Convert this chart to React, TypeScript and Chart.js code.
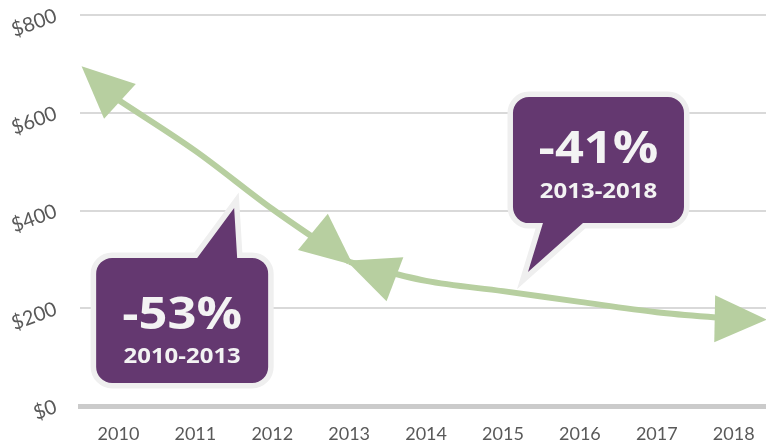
import React, { useEffect, useRef } from 'react';
import { Chart, registerables } from 'chart.js';

Chart.register(...registerables);

// ---- Data ----
const YEARS_A = [2010, 2011, 2012, 2013];
const PRICES_A = [626, 522, 403, 295];
const YEARS_B = [2013, 2014, 2015, 2016, 2017, 2018];
const PRICES_B = [295, 256, 235, 213, 192, 178];
const X_TICKS = [2010, 2011, 2012, 2013, 2014, 2015, 2016, 2017, 2018];
const Y_TICKS = [0, 200, 400, 600, 800];
const CALLOUT_A_TITLE = '-53%';
const CALLOUT_A_SUB = '2010-2013';
const CALLOUT_B_TITLE = '-41%';
const CALLOUT_B_SUB = '2013-2018';

// ---- Styles ----
const GREEN = '#b7cfa0';
const PURPLE = '#643870';
const BORDER_GRAY = '#efefef';
const TEXT_WHITE = '#f3f3f3';
const AXIS_TEXT = '#595959';

type ArrowCfg = { ds: number; at: 'start' | 'end'; tip: number; rot: number };
const ARROWS: ArrowCfg[] = [
  { ds: 0, at: 'start', tip: 50, rot: 9 },
  { ds: 0, at: 'end', tip: 5, rot: 5 },
  { ds: 1, at: 'start', tip: 3, rot: 7 },
  { ds: 1, at: 'end', tip: 33, rot: -4 },
];
const ARROW_LEN = 52;
const ARROW_W = 47;

const arrowPlugin = {
  id: 'arrowHeads',
  afterDatasetsDraw(chart: any) {
    const ctx = chart.ctx as CanvasRenderingContext2D;
    ctx.save();
    ctx.fillStyle = GREEN;
    ARROWS.forEach((a) => {
      const pts = chart.getDatasetMeta(a.ds).data;
      const n = pts.length;
      const to = a.at === 'start' ? pts[0] : pts[n - 1];
      const from = a.at === 'start' ? pts[1] : pts[n - 2];
      const ang = Math.atan2(to.y - from.y, to.x - from.x) + (a.rot * Math.PI) / 180;
      const dx = Math.cos(ang);
      const dy = Math.sin(ang);
      const tx = to.x + dx * a.tip;
      const ty = to.y + dy * a.tip;
      const bx = tx - dx * ARROW_LEN;
      const by = ty - dy * ARROW_LEN;
      const px = -dy * (ARROW_W / 2);
      const py = dx * (ARROW_W / 2);
      ctx.beginPath();
      ctx.moveTo(tx, ty);
      ctx.lineTo(bx + px, by + py);
      ctx.lineTo(bx - px, by - py);
      ctx.closePath();
      ctx.fill();
    });
    ctx.restore();
  },
};

type Callout = {
  title: string;
  sub: string;
  year: number; // box left
  value: number; // box top
  w: number;
  h: number;
  pointer: 'top' | 'bottom';
  p: number[];
  titleY: number;
  subY: number;
};

const CALLOUTS: Callout[] = [
  { title: CALLOUT_A_TITLE, sub: CALLOUT_A_SUB, year: 2009.71, value: 303, w: 172, h: 125, pointer: 'top', p: [101, 141, 138, -50], titleY: 71, subY: 105 },
  { title: CALLOUT_B_TITLE, sub: CALLOUT_B_SUB, year: 2015.13, value: 632, w: 171, h: 126, pointer: 'bottom', p: [30, 70, 15, 49], titleY: 66, subY: 101 },
];

function calloutPath(ctx: CanvasRenderingContext2D, l: number, t: number, c: Callout) {
  const r = 16;
  const rgt = l + c.w;
  const b = t + c.h;
  ctx.beginPath();
  ctx.moveTo(l + r, t);
  if (c.pointer === 'top') {
    ctx.lineTo(l + c.p[0], t);
    ctx.lineTo(l + c.p[2], t + c.p[3]);
    ctx.lineTo(l + c.p[1], t);
  }
  ctx.lineTo(rgt - r, t);
  ctx.arcTo(rgt, t, rgt, t + r, r);
  ctx.lineTo(rgt, b - r);
  ctx.arcTo(rgt, b, rgt - r, b, r);
  if (c.pointer === 'bottom') {
    ctx.lineTo(l + c.p[1], b);
    ctx.lineTo(l + c.p[2], b + c.p[3]);
    ctx.lineTo(l + c.p[0], b);
  }
  ctx.lineTo(l + r, b);
  ctx.arcTo(l, b, l, b - r, r);
  ctx.lineTo(l, t + r);
  ctx.arcTo(l, t, l + r, t, r);
  ctx.closePath();
}

function drawStretched(ctx: CanvasRenderingContext2D, text: string, cx: number, y: number, sx: number) {
  ctx.save();
  ctx.translate(cx, y);
  ctx.scale(sx, 1);
  ctx.fillText(text, 0, 0);
  ctx.restore();
}

const calloutPlugin = {
  id: 'callouts',
  afterDraw(chart: any) {
    const ctx = chart.ctx as CanvasRenderingContext2D;
    const xs = chart.scales.x;
    const ys = chart.scales.y;
    CALLOUTS.forEach((c) => {
      const l = xs.getPixelForValue(c.year);
      const t = ys.getPixelForValue(c.value);
      ctx.save();
      calloutPath(ctx, l, t, c);
      ctx.lineJoin = 'miter';
      ctx.miterLimit = 10;
      ctx.lineWidth = 11;
      ctx.strokeStyle = BORDER_GRAY;
      ctx.stroke();
      ctx.fillStyle = PURPLE;
      ctx.fill();
      ctx.fillStyle = TEXT_WHITE;
      ctx.textAlign = 'center';
      ctx.textBaseline = 'alphabetic';
      ctx.font = '700 44px "Open Sans"';
      drawStretched(ctx, c.title, l + c.w / 2, t + c.titleY, 1.15);
      ctx.font = '700 21px "Open Sans"';
      drawStretched(ctx, c.sub, l + c.w / 2, t + c.subY, 1.14);
      ctx.restore();
    });
  },
};

export default function App() {
  const ref = useRef<HTMLCanvasElement | null>(null);

  useEffect(() => {
    if (!ref.current) return;
    const chart = new Chart(ref.current, {
      type: 'line',
      data: {
        datasets: [
          {
            data: YEARS_A.map((y, i) => ({ x: y, y: PRICES_A[i] })),
            borderColor: GREEN,
            borderWidth: 6,
            pointRadius: 0,
            cubicInterpolationMode: 'monotone',
            fill: false,
          },
          {
            data: YEARS_B.map((y, i) => ({ x: y, y: PRICES_B[i] })),
            borderColor: GREEN,
            borderWidth: 6,
            pointRadius: 0,
            cubicInterpolationMode: 'monotone',
            fill: false,
          },
        ],
      },
      options: {
        animation: false,
        responsive: true,
        maintainAspectRatio: false,
        layout: { padding: { top: 15, right: 0, left: 0, bottom: 0 } },
        plugins: { legend: { display: false }, tooltip: { enabled: false } },
        scales: {
          x: {
            type: 'linear',
            min: 2009.5,
            max: 2018.42,
            afterBuildTicks: (s: any) => {
              s.ticks = X_TICKS.map((v) => ({ value: v }));
            },
            afterFit: (s: any) => {
              s.height = 42;
              s.paddingLeft = 0;
              s.paddingRight = 0;
            },
            ticks: {
              callback: (v: any) => String(v),
              font: { family: 'Lato', size: 18 },
              color: AXIS_TEXT,
              padding: 17,
              maxRotation: 0,
              minRotation: 0,
              autoSkip: false,
            },
            grid: { display: false, drawTicks: false },
            border: { display: true, color: '#cbcbcb', width: 5 },
          },
          y: {
            min: 0,
            max: 800,
            afterBuildTicks: (s: any) => {
              s.ticks = Y_TICKS.map((v) => ({ value: v }));
            },
            afterFit: (s: any) => {
              s.width = 80;
              s.paddingTop = 0;
              s.paddingBottom = 0;
            },
            ticks: {
              callback: (v: any) => '$' + v,
              font: { family: 'Lato', size: 20 },
              color: AXIS_TEXT,
              padding: 24,
              minRotation: 20,
              maxRotation: 20,
            },
            grid: { color: '#d9d9d9', lineWidth: 2, drawTicks: false },
            border: { display: false },
          },
        },
      },
      plugins: [arrowPlugin, calloutPlugin],
    });
    return () => chart.destroy();
  }, []);

  return (
    <div style={{ position: 'fixed', left: 0, top: 0, width: 766, height: 448 }}>
      <canvas ref={ref} />
    </div>
  );
}
